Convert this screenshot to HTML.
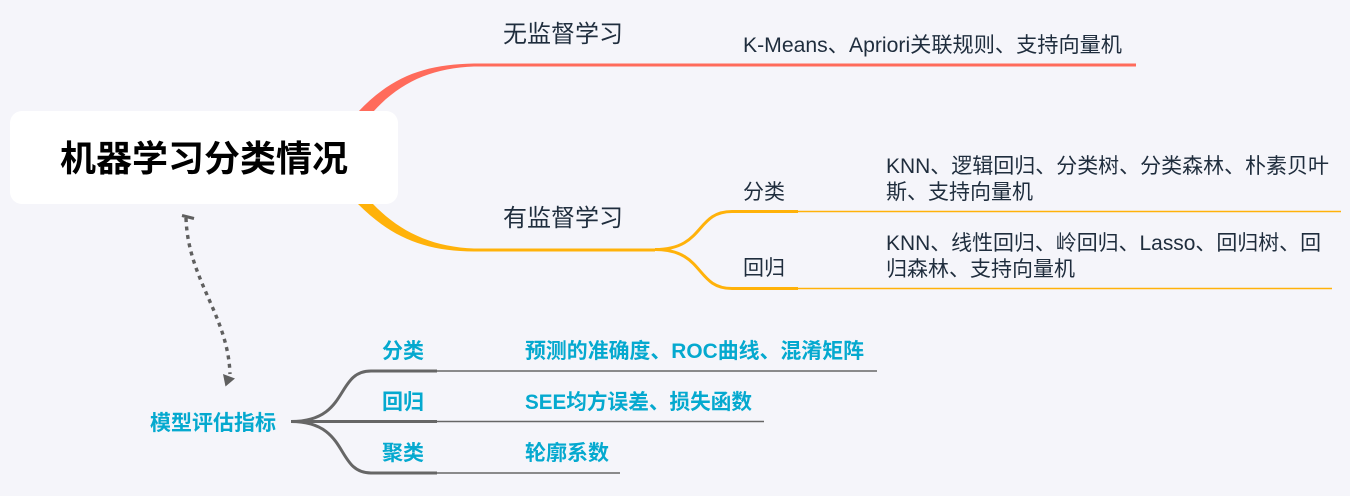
<!DOCTYPE html>
<html><head><meta charset="utf-8"><style>
html,body{margin:0;padding:0;width:1350px;height:496px;overflow:hidden;background:#f5f5fa}
svg{display:block}
text{font-family:"Liberation Sans","Noto Sans CJK SC",sans-serif}
.d{fill:#1f2d3d;font-size:21px}
.h{fill:#1f2d3d;font-size:24px}
.b{fill:#05a9cf;font-size:21px;font-weight:700}
</style></head><body>
<svg width="1350" height="496" viewBox="0 0 1350 496" xmlns="http://www.w3.org/2000/svg">
<rect width="1350" height="496" fill="#f5f5fa"/>
<!-- main branches -->
<path d="M358 112 C392 76 425 64.5 474 63.5 L474 66.5 C432 68 400 82 373 112 Z" fill="#ff6b5b"/>
<path d="M474 65 H1136" stroke="#ff6b5b" stroke-width="3" fill="none"/>
<path d="M358 204 C392 238 425 251 474 251.5 L474 248.5 C432 247 400 232 373 204 Z" fill="#ffb20a"/>
<path d="M474 250 H655" stroke="#ffb20a" stroke-width="3" fill="none"/>
<path d="M655 249.5 C705 249.5 695 211.5 732 211.5 H798" stroke="#ffb20a" stroke-width="3" fill="none"/>
<path d="M655 249.5 C705 249.5 695 288.5 732 288.5 H798" stroke="#ffb20a" stroke-width="3" fill="none"/>
<path d="M798 211.5 H1341 M798 288.5 H1332" stroke="#ffb20a" stroke-width="1.5" fill="none"/>
<!-- root -->
<rect x="10" y="111" width="388" height="93" rx="12" fill="#fff"/>
<text x="60" y="171" font-size="36" font-weight="700" fill="#000">机器学习分类情况</text>
<text x="503" y="42" class="h">无监督学习</text>
<text x="503" y="226" class="h">有监督学习</text>
<text x="743" y="52" class="d" textLength="379" lengthAdjust="spacingAndGlyphs">K-Means、Apriori关联规则、支持向量机</text>
<text x="743" y="199" class="d">分类</text>
<text x="743" y="275" class="d">回归</text>
<text x="886" y="173" class="d" textLength="443" lengthAdjust="spacingAndGlyphs">KNN、逻辑回归、分类树、分类森林、朴素贝叶</text>
<text x="886" y="199" class="d">斯、支持向量机</text>
<text x="886" y="250" class="d" textLength="435" lengthAdjust="spacingAndGlyphs">KNN、线性回归、岭回归、Lasso、回归树、回</text>
<text x="886" y="276" class="d">归森林、支持向量机</text>
<!-- dashed relation -->
<path d="M186 218 C188 280 228 315 230 374" stroke="#5f5f5f" stroke-width="3.4" stroke-dasharray="4 4.5" fill="none"/>
<path d="M182 215.5 L194 218.5" stroke="#5f5f5f" stroke-width="3" fill="none"/>
<path d="M223 374 L235 378.5 L225.5 386.5 Z" fill="#5f5f5f"/>
<!-- bottom tree -->
<text x="150" y="430" class="b">模型评估指标</text>
<path d="M291 421.5 H371" stroke="#666" stroke-width="3" fill="none"/>
<path d="M291 421.5 C350 421.5 335 371 371 371" stroke="#666" stroke-width="3" fill="none"/>
<path d="M291 421.5 C350 421.5 335 473 371 473" stroke="#666" stroke-width="3" fill="none"/>
<path d="M371 371 H437 M371 421.5 H437 M371 473 H437" stroke="#666" stroke-width="3" fill="none"/>
<path d="M437 371 H877 M437 421.5 H764 M437 473 H620" stroke="#666" stroke-width="1.5" fill="none"/>
<text x="382" y="358" class="b">分类</text>
<text x="382" y="409" class="b">回归</text>
<text x="382" y="460" class="b">聚类</text>
<text x="525" y="358" class="b" textLength="339" lengthAdjust="spacingAndGlyphs">预测的准确度、ROC曲线、混淆矩阵</text>
<text x="525" y="409" class="b" textLength="227" lengthAdjust="spacingAndGlyphs">SEE均方误差、损失函数</text>
<text x="525" y="460" class="b">轮廓系数</text>
</svg>
</body></html>
